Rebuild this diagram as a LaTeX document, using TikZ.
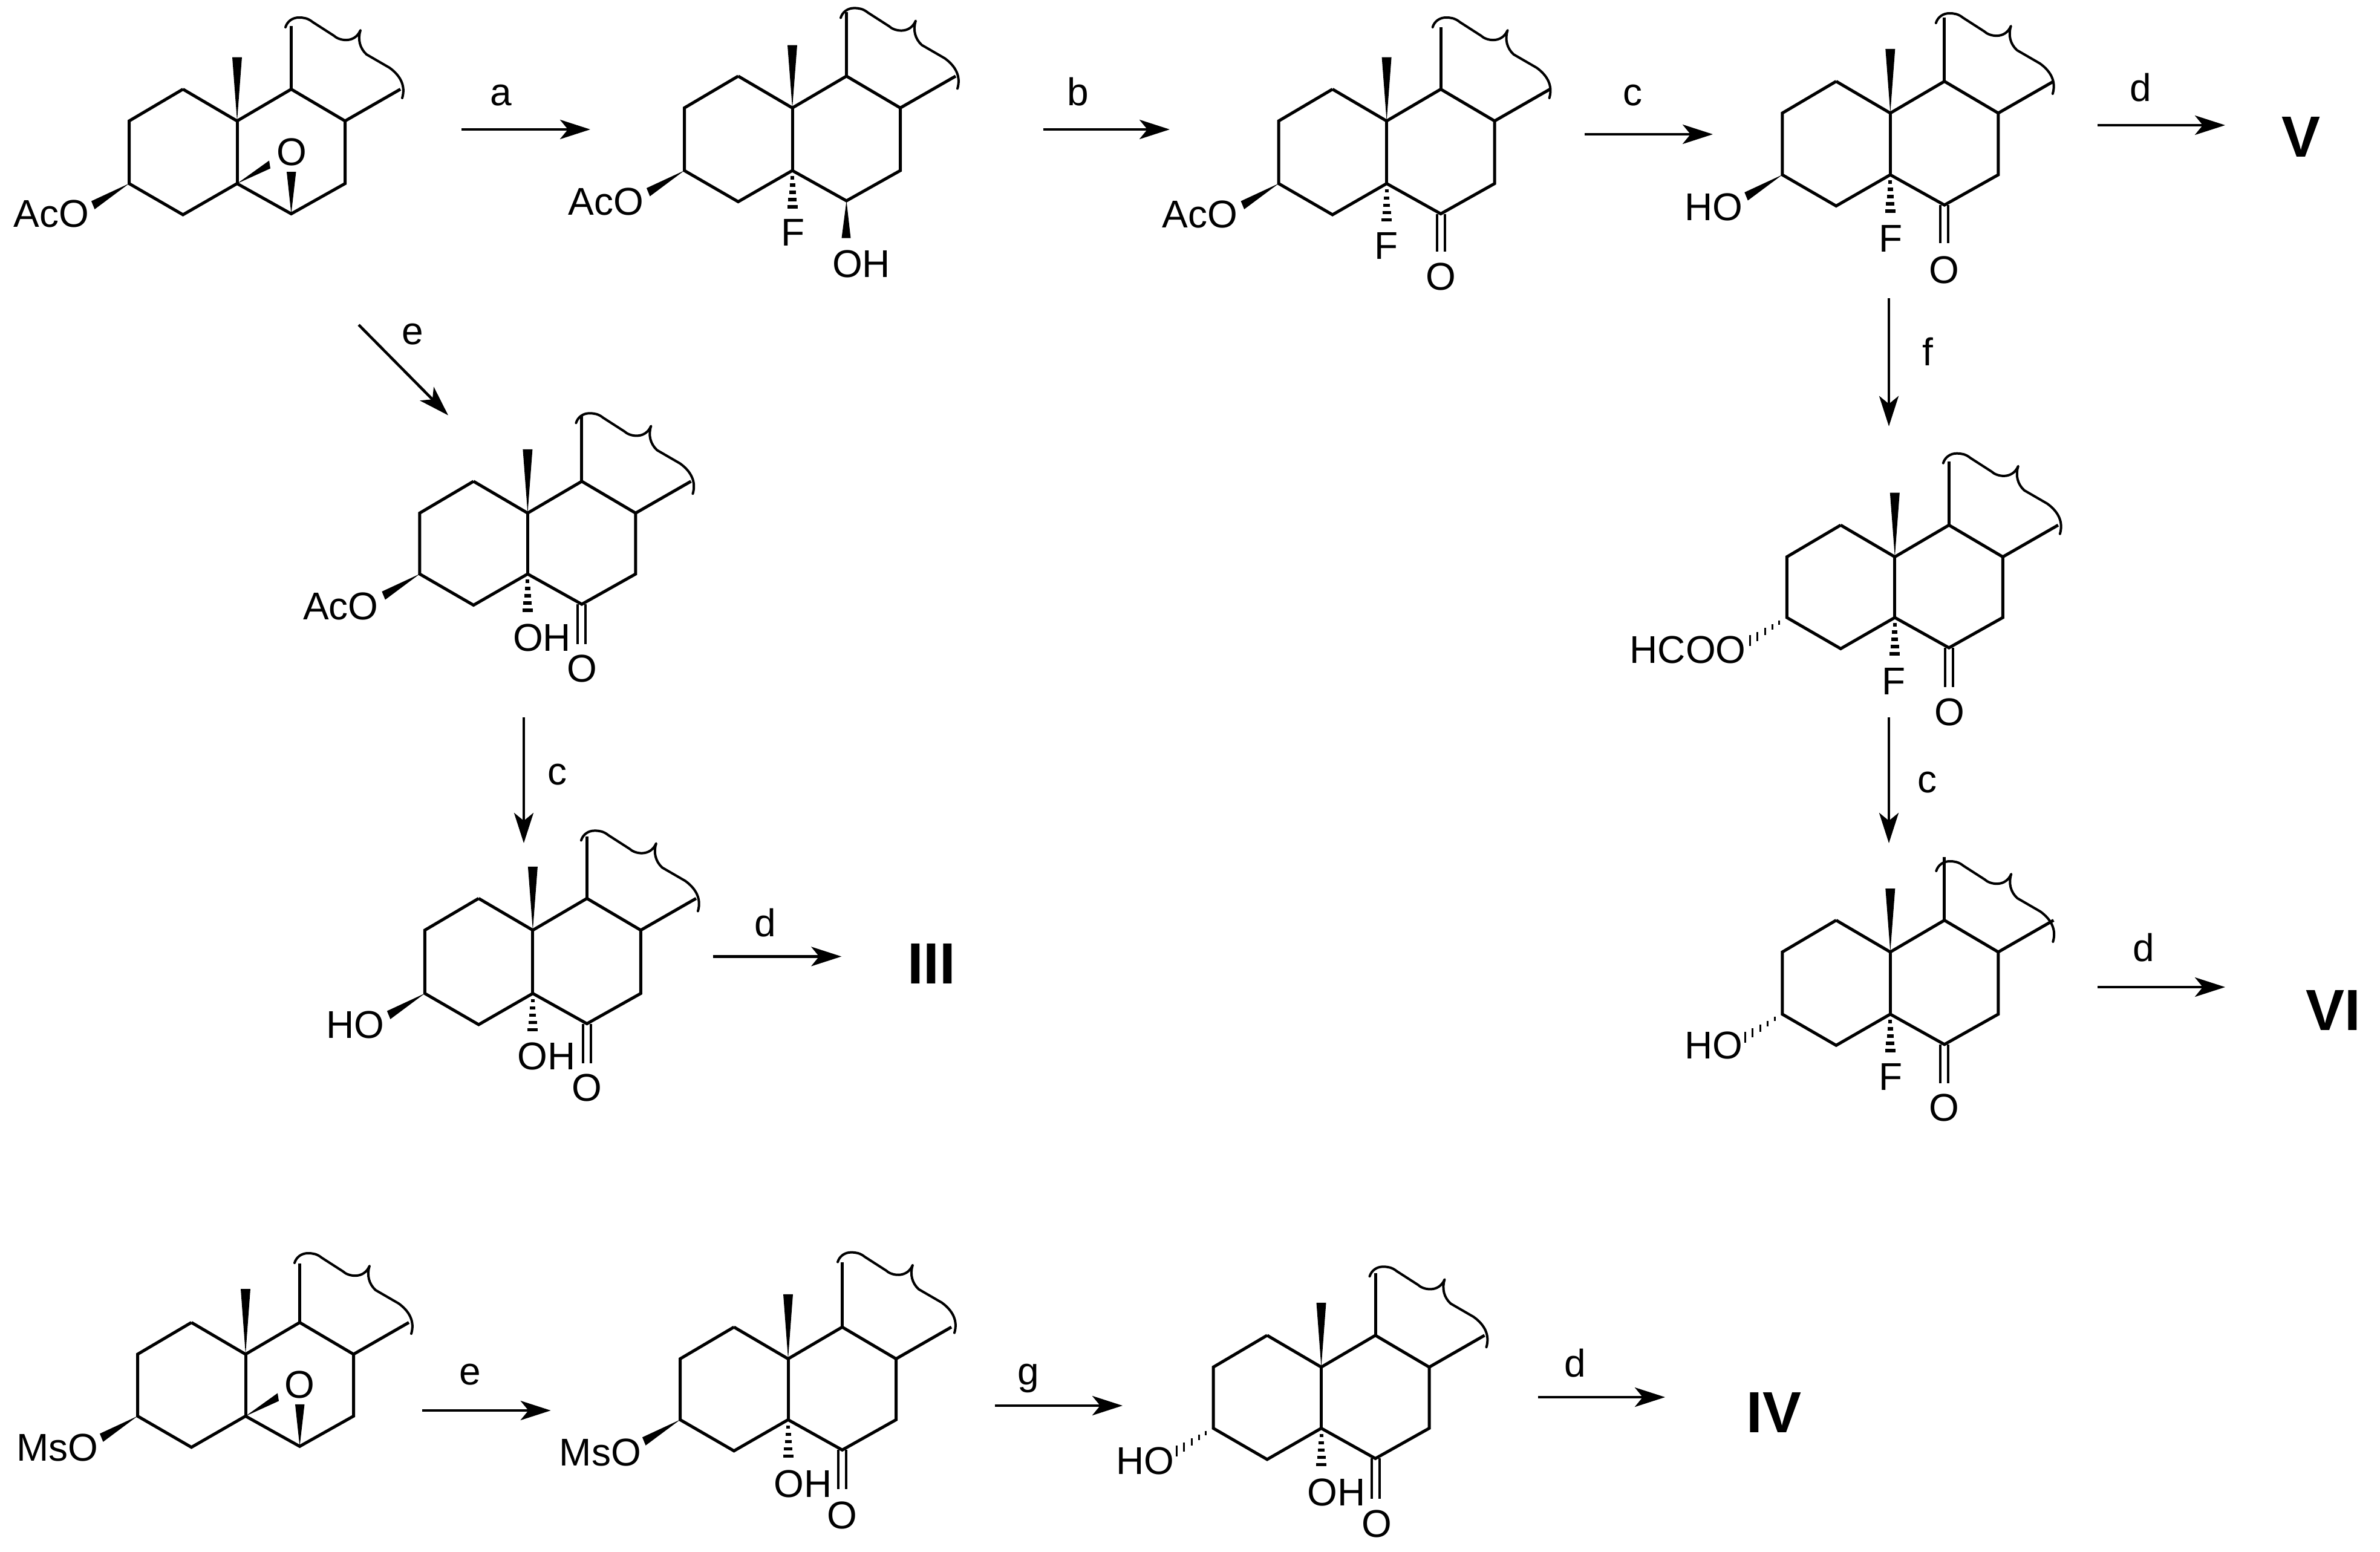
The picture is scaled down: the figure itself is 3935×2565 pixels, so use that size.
\documentclass[tikz,border=0pt]{standalone}
\usepackage{fontspec}
\setmainfont{Liberation Sans}
\usetikzlibrary{arrows.meta}
\tikzset{
  bond/.style={line width=5pt,line join=miter,miter limit=10},
  dbl/.style={line width=4pt},
  brace/.style={line width=4pt,line join=round,line cap=round},
  atom/.style={inner sep=0pt,anchor=base,font=\fontsize{64}{70}\selectfont},
  cmpd/.style={inner sep=0pt,anchor=base,font=\fontsize{96}{100}\selectfont\bfseries},
  rxn/.style={line width=4.5pt,-{Stealth[length=50pt,width=32pt,inset=13pt]}},
}
% #1 prefix, #2 Tx, #3 Ty, #4 ring bond length, #5 stem top, #6 methyl top, #7,#8 squiggle offset
\newcommand{\skel}[8]{%
\begin{scope}[shift={(#2,#3)}]
  \coordinate (#1T) at (0,0);
  \coordinate (#1B) at (0,#4);
  \coordinate (#1La) at (-89.5,-52.5);
  \coordinate (#1Lb) at (-178.5,0);
  \coordinate (#1Lc) at (-178.5,#4);
  \coordinate (#1Ld) at (-89.5,#4+51.5);
  \coordinate (#1Ra) at (89.5,-52.5);
  \coordinate (#1Rb) at (178.5,0);
  \coordinate (#1Rc) at (178.5,#4);
  \coordinate (#1Rd) at (89.5,#4+50);
  \coordinate (#1tail) at (270,-52.5);
  \coordinate (#1stem) at (89.5,#5);
  \draw[bond] (#1La) -- (#1Lb) -- (#1Lc) -- (#1Ld) -- (#1B) -- (#1Rd) -- (#1Rc) -- (#1Rb) -- (#1Ra) -- (#1T) -- (#1La);
  \draw[bond] (#1T) -- (#1B);
  \draw[bond] (#1Rb) -- (#1tail);
  \draw[bond] (#1Ra) -- (#1stem);
  \fill (#1T) -- (-8,#6) -- (8,#6) -- cycle;
  \begin{scope}[shift={(#7,#8)}]
    \draw[brace] (80,-155) .. controls (83,-165) and (92,-171) .. (102,-171)
      .. controls (110,-171) and (117,-170) .. (125,-163.5)
      -- (160,-141)
      .. controls (168,-133) and (194,-127) .. (204,-150)
      .. controls (199,-135) and (203,-120) .. (214,-110)
      -- (252,-88)
      .. controls (270,-75) and (279,-58) .. (273,-38);
  \end{scope}
\end{scope}}
% beta wedge from ring carbon Lc
\newcommand{\wedgeL}[1]{\begin{scope}[shift={(#1Lc)}]\fill (0,0) -- (-62.5,29) -- (-57,42.5) -- cycle;\end{scope}}
% alpha hashed bond from ring carbon Lc
\newcommand{\hashL}[1]{\begin{scope}[shift={(#1Lc)}]
  \foreach \a/\b/\h in {-12.5/8/3.5,-24/15.5/4.5,-36/23/6,-49/31/7.5,-61/38/9}
    {\draw[line width=3pt] (\a,\b-\h) -- (\a,\b+\h);}\end{scope}}
% hashed bond down from junction B
\newcommand{\hashB}[1]{\begin{scope}[shift={(#1B)}]
  \foreach \d/\w in {12/3,24/4.5,36/5.5,48/7,60/8.5}
    {\draw[line width=5.5pt] (-\w,\d) -- (\w,\d);}\end{scope}}
% carbonyl: #1 prefix, #2 y of lower bond end, #3 O x, #4 O baseline
\newcommand{\keto}[4]{%
  \coordinate (#1ce) at (#1Rd |- 0,#2);
  \draw[dbl] ([xshift=-6.5pt]#1Rd) -- ([xshift=-6.5pt]#1ce);
  \draw[dbl] ([xshift=6.5pt]#1Rd) -- ([xshift=6.5pt]#1ce);
  \node[atom] (#1O) at (#3,#4) {O};}
% epoxide: #1 prefix, #2 O x, #3 O baseline
\newcommand{\epox}[3]{%
  \begin{scope}[shift={(#1B)}]\fill (0,0) -- (53,-38) -- (55,-25) -- cycle;\end{scope}
  \begin{scope}[shift={(#1Rd)}]\fill (0,0) -- (-7.5,-69.5) -- (8,-69.5) -- cycle;\end{scope}
  \node[atom] (#1O) at (#2,#3) {O};}
\begin{document}
\begin{tikzpicture}[x=1pt,y=-1pt]
\useasboundingbox (0,0) rectangle (3935,2565);
\fill[white] (0,0) rectangle (3935,2565);

% ---- top row
\skel{a}{392}{200}{103.5}{-157}{-105.5}{0}{0}
\wedgeL{a}\epox{a}{482}{273}
\node[atom] (aAc) at (85,375) {AcO};

\skel{b}{1310}{178.4}{103.6}{-158.4}{-103.8}{0}{6}
\wedgeL{b}\hashB{b}
\node[atom] (bAc) at (1002,355) {AcO};
\node[atom] (bF) at (1311,406) {F};
\begin{scope}[shift={(bRd)}]\fill (0,0) -- (-8,61.5) -- (7,61.5) -- cycle;\end{scope}
\node[atom] (bOH) at (1424,458) {OH};

\skel{c}{2292.6}{200}{103.5}{-155}{-105.5}{-4}{0}
\wedgeL{c}\hashB{c}\keto{c}{416}{2382.5}{479}
\node[atom] (cAc) at (1984,376) {AcO};
\node[atom] (cF) at (2292,428) {F};

\skel{d}{3125.3}{187}{102}{-158.4}{-106.2}{-4.5}{6}
\wedgeL{d}\hashB{d}\keto{d}{402}{3214}{468}
\node[atom] (dHO) at (2833,364.5) {HO};
\node[atom] (dF) at (3126,416) {F};

% ---- left column
\skel{e}{872.4}{848.3}{100.7}{-160}{-105.5}{0}{6}
\wedgeL{e}\hashB{e}\keto{e}{1064.5}{962}{1127.5}
\node[atom] (eAc) at (563.5,1024.7) {AcO};
\node[atom] (eOH) at (896,1076) {OH};

\skel{f}{880.9}{1537.9}{104.6}{-155.4}{-105}{0}{6.5}
\wedgeL{f}\hashB{f}\keto{f}{1757.5}{970}{1820.5}
\node[atom] (fHO) at (587.7,1716.4) {HO};
\node[atom] (fOH) at (903.5,1768) {OH};

% ---- right column
\skel{g}{3132.8}{920.7}{100.3}{-157.7}{-106.2}{0}{0}
\hashL{g}\hashB{g}\keto{g}{1136}{3223}{1199.5}
\node[atom] (gH) at (2790.6,1096.5) {HCOO};
\node[atom] (gF) at (3131,1148) {F};

\skel{h}{3125.3}{1574}{102.8}{-157}{-105}{-4}{21}
\hashL{h}\hashB{h}\keto{h}{1791.3}{3214}{1853.5}
\node[atom] (hHO) at (2833,1750.8) {HO};
\node[atom] (hF) at (3126,1802) {F};

% ---- bottom row
\skel{i}{406}{2239}{102.3}{-150.5}{-108}{1}{4}
\wedgeL{i}\epox{i}{495.5}{2311}
\node[atom] (iMs) at (95,2415) {MsO};

\skel{j}{1303}{2246.6}{100.7}{-159.7}{-106.8}{2}{-5}
\wedgeL{j}\hashB{j}\keto{j}{2461.8}{1392.3}{2527}
\node[atom] (jMs) at (992.5,2423.3) {MsO};
\node[atom] (jOH) at (1327.6,2475) {OH};

\skel{k}{2184.5}{2260.3}{101.1}{-155.3}{-106.5}{0}{5}
\hashL{k}\hashB{k}\keto{k}{2477.6}{2276}{2541.5}
\node[atom] (kHO) at (1893.5,2437.7) {HO};
\node[atom] (kOH) at (2209.5,2489.6) {OH};

% ---- compound numerals
\node[cmpd] (V) at (3804,259) {V};
\node[cmpd] (VI) at (3858,1703) {VI};
\node[cmpd] (III) at (1540,1626.4) {III};
\node[cmpd] (IV) at (2933,2368) {IV};

% ---- reaction arrows
\coordinate (a1) at (763,214);   \coordinate (a2) at (976,214);
\coordinate (b1) at (1724.6,214);\coordinate (b2) at (1934,214);
\coordinate (c1) at (2620.4,222);\coordinate (c2) at (2832,222);
\coordinate (d1) at (3468,207);  \coordinate (d2) at (3679,207);
\coordinate (e1) at (593,537);   \coordinate (e2) at (741,686.6);
\coordinate (f1) at (3123,493);  \coordinate (f2) at (3123,704.8);
\coordinate (g1) at (3123,1186); \coordinate (g2) at (3123,1394);
\coordinate (h1) at (3468,1632); \coordinate (h2) at (3679,1632);
\coordinate (i1) at (866,1186);  \coordinate (i2) at (866,1394);
\coordinate (j1) at (1178.5,1581.4); \coordinate (j2) at (1391.3,1581.4);
\coordinate (k1) at (698.3,2332);\coordinate (k2) at (910.7,2332);
\coordinate (l1) at (1645,2324); \coordinate (l2) at (1856,2324);
\coordinate (m1) at (2543,2310); \coordinate (m2) at (2753,2310);
\foreach \p in {a,b,c,d,e,f,g,h,i,j,k,l,m}{\draw[rxn] (\p1) -- (\p2);}

% ---- arrow labels
\node[atom] (la) at (828,174) {a};
\node[atom] (lb) at (1782,174) {b};
\node[atom] (lc) at (2699,174) {c};
\node[atom] (ld) at (3539,167) {d};
\node[atom] (le) at (682,569) {e};
\node[atom] (lf) at (3187.5,604) {f};
\node[atom] (lg) at (3186,1310) {c};
\node[atom] (lh) at (3544,1589.6) {d};
\node[atom] (li) at (921,1297) {c};
\node[atom] (lj) at (1265,1548.6) {d};
\node[atom] (lk) at (776.8,2289.4) {e};
\node[atom] (ll) at (1700.4,2289.4) {g};
\node[atom] (lm) at (2604.6,2276) {d};
\end{tikzpicture}
\end{document}
